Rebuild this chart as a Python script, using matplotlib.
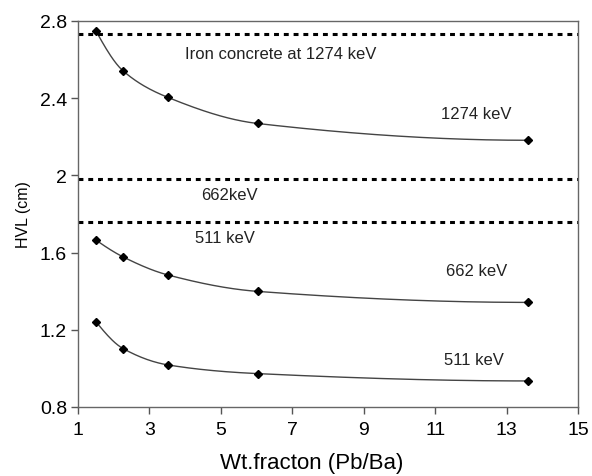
import numpy as np
import matplotlib
matplotlib.use("Agg")
import matplotlib.pyplot as plt

plt.rcParams['font.family'] = ['Liberation Sans', 'DejaVu Sans']

wt_fraction = [1.51, 2.26, 3.52, 6.03, 13.6]
hvl_1274 = [2.746, 2.542, 2.404, 2.269, 2.182]
hvl_662 = [1.664, 1.578, 1.484, 1.399, 1.342]
hvl_511 = [1.240, 1.103, 1.018, 0.973, 0.935]

ref_levels = [2.734, 1.979, 1.761]
x_ticks = [1, 3, 5, 7, 9, 11, 13, 15]
y_ticks = [0.8, 1.2, 1.6, 2.0, 2.4, 2.8]
y_ticklabels = ['0.8', '1.2', '1.6', '2', '2.4', '2.8']


def pchip(x, y, xn):
    x = np.asarray(x, float); y = np.asarray(y, float)
    h = np.diff(x); d = np.diff(y) / h
    n = len(x); m = np.zeros(n)
    for k in range(1, n - 1):
        if d[k - 1] * d[k] > 0:
            w1 = 2 * h[k] + h[k - 1]; w2 = h[k] + 2 * h[k - 1]
            m[k] = (w1 + w2) / (w1 / d[k - 1] + w2 / d[k])
    m[0] = ((2 * h[0] + h[1]) * d[0] - h[0] * d[1]) / (h[0] + h[1])
    if np.sign(m[0]) != np.sign(d[0]):
        m[0] = 0
    elif np.sign(d[0]) != np.sign(d[1]) and abs(m[0]) > abs(3 * d[0]):
        m[0] = 3 * d[0]
    m[-1] = ((2 * h[-1] + h[-2]) * d[-1] - h[-1] * d[-2]) / (h[-1] + h[-2])
    if np.sign(m[-1]) != np.sign(d[-1]):
        m[-1] = 0
    out = np.empty_like(xn)
    for i, xv in enumerate(xn):
        k = min(max(np.searchsorted(x, xv) - 1, 0), n - 2)
        t = (xv - x[k]) / h[k]
        h00 = 2 * t**3 - 3 * t**2 + 1; h10 = t**3 - 2 * t**2 + t
        h01 = -2 * t**3 + 3 * t**2; h11 = t**3 - t**2
        out[i] = h00 * y[k] + h10 * h[k] * m[k] + h01 * y[k + 1] + h11 * h[k] * m[k + 1]
    return out


fig = plt.figure(figsize=(5.92, 4.77), dpi=100)
ax = fig.add_axes([78 / 592, 1 - 408 / 477, 500 / 592, 386 / 477])

xs = np.linspace(wt_fraction[0], wt_fraction[-1], 300)
for series in (hvl_1274, hvl_662, hvl_511):
    ax.plot(xs, pchip(wt_fraction, series, xs), color='#444444', lw=1.0)
    ax.plot(wt_fraction, series, linestyle='none', marker='D', ms=4.5,
            color='black')

for lvl in ref_levels:
    ax.axhline(lvl, color='black', lw=2.2, linestyle=(0, (1.6, 1.6)))

tc = '#222222'
ax.text(4.0, 2.63, 'Iron concrete at 1274 keV', fontsize=12, va='center', color=tc)
ax.text(11.17, 2.32, '1274 keV', fontsize=12, va='center', color=tc)
ax.text(4.45, 1.90, '662keV', fontsize=12, va='center', color=tc)
ax.text(4.28, 1.676, '511 keV', fontsize=12, va='center', color=tc)
ax.text(11.3, 1.508, '662 keV', fontsize=12, va='center', color=tc)
ax.text(11.25, 1.048, '511 keV', fontsize=12, va='center', color=tc)

ax.set_xlim(1, 15)
ax.set_ylim(0.8, 2.8)
ax.set_xticks(x_ticks)
ax.set_yticks(y_ticks)
ax.set_yticklabels(y_ticklabels)
ax.tick_params(labelsize=14, direction='out', length=5, color='#555555', width=1, pad=3)
ax.tick_params(axis='x', pad=5)
for s in ax.spines.values():
    s.set_color('#666666')
    s.set_linewidth(1.0)

ax.set_xlabel('Wt.fracton (Pb/Ba)', fontsize=16, va='center')
ax.xaxis.set_label_coords(0.468, -0.1425)
ax.set_ylabel('HVL (cm)', fontsize=11.5, labelpad=6)

fig.savefig('out.png', dpi=100)
